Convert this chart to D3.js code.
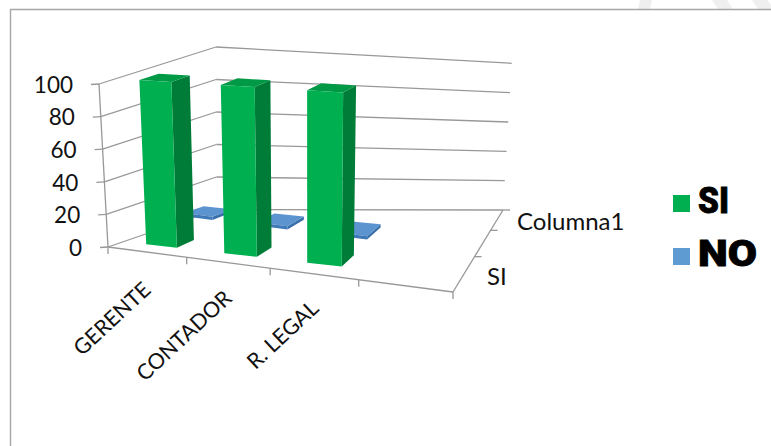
<!DOCTYPE html>
<html>
<head>
<meta charset="utf-8">
<script src="https://cdn.jsdelivr.net/npm/d3@7"></script>
<style>
html,body{margin:0;padding:0;background:#fff}
svg{display:block}
text{font-family:Lato,"Open Sans",sans-serif;fill:#111}
</style>
</head>
<body>
<svg id="chart" width="771" height="446"></svg>
<script>
// Chart content. The category axis has a fourth, unnamed slot that stays empty.
const categories = ["GERENTE", "CONTADOR", "R. LEGAL", ""];
const depthSeries = ["SI", "NO", "Columna1"];
const depthLabels = ["SI", "Columna1"];
const siValues = [100, 100, 100];
const noValues = [2, 2, 2];
const valueTicks = [0, 20, 40, 60, 80, 100];
const legendNames = ["SI", "NO"];

const colors = {
  SI: {front: "#00b050", side: "#007c39", top: "#009a46"},
  NO: {front: "#3f7ab8", side: "#3a70aa", top: "#5b94cf"},
  legendNO: "#5f9bd3",
  axis: "#989898",
  frame: "#a6a6a6"
};

const svg = d3.select("#chart");

// Perspective box: floor and ceiling quadrilaterals of the plot, listed as
// front-left, front-right, back-right, back-left.
const floorQuad = [[108, 247], [453, 292], [503, 210], [216.5, 209.5]];
const ceilQuad  = [[99, 84], [459, 106], [511.7, 63.3], [216, 47]];

// Foreshortening along each floor direction
const foreshorten = k => t => t / (t + k * (1 - t));
const warpU = foreshorten(1.128);
const warpV = foreshorten(0.66);

function bilinear(q, s, t) {
  const lerp = (a, b, f) => [a[0] + (b[0] - a[0]) * f, a[1] + (b[1] - a[1]) * f];
  return lerp(lerp(q[0], q[1], s), lerp(q[3], q[2], s), t);
}

// Data scales in the chart's own space
const xScale = d3.scaleBand().domain(categories).range([0, 1]);
const zScale = d3.scaleBand().domain(depthSeries).range([0, 1]);
const yScale = d3.scaleLinear().domain([0, 100]).range([0, 1]);

function project(u, v, value) {
  const s = warpU(u), d = warpV(v), t = yScale(value);
  const a = bilinear(floorQuad, s, d), b = bilinear(ceilQuad, s, d);
  return [a[0] + (b[0] - a[0]) * t, a[1] + (b[1] - a[1]) * t];
}
const poly = pts => "M" + pts.map(p => p.map(n => n.toFixed(2)).join(",")).join("L") + "Z";
const seg = (p, q) => "M" + p.join(",") + "L" + q.join(",");

// Chart frame and faint background stripes
const stripes = [
  [[640, 0], [652, 0], [650, 9], [638, 9]],
  [[712, 0], [727, 0], [733, 9], [718, 9]],
  [[752, 0], [767, 0], [771, 5], [771, 9], [758, 9]]
];
svg.selectAll("path.stripe").data(stripes).join("path").attr("class", "stripe")
  .attr("d", poly).attr("fill", "#efefef");
svg.append("path").attr("d", "M10.5,446V9.5H771")
  .attr("fill", "none").attr("stroke", colors.frame).attr("stroke-width", 1.4);

// Gridlines on the side and back walls
const grid = svg.append("g").attr("fill", "none").attr("stroke", colors.axis).attr("stroke-width", 1.3);
valueTicks.forEach(t => {
  grid.append("path").attr("d", seg(project(0, 0, t), project(0, 1, t)));
  grid.append("path").attr("d", seg(project(0, 1, t), project(1, 1, t)));
  // small tick to the left of the value axis
  const p = project(0, 0, t);
  grid.append("path").attr("d", seg([p[0] - 8, p[1] + 0.5], p));
});
// Axis edges
grid.append("path").attr("d", seg(project(0, 0, 0), project(0, 0, 100)));
grid.append("path").attr("d", seg(project(0, 0, 0), project(1, 0, 0)));
grid.append("path").attr("d", seg(project(1, 0, 0), project(1, 1, 0)));

// Category ticks along the front edge and series ticks along the right edge
categories.concat("end").forEach((c, i) => {
  const p = project(i / categories.length, 0, 0);
  grid.append("path").attr("d", seg(p, [p[0], p[1] + 7]));
});
depthSeries.forEach((s, i) => {
  const p = project(1, (i + 1) / depthSeries.length, 0);
  grid.append("path").attr("d", seg(p, [p[0] + 7, p[1]]));
});

// A column is a box standing on the floor: front, side and top faces.
function columnFaces(cat, series, value, depthFill) {
  const barFill = 0.4;
  const cw = xScale.bandwidth(), dw = zScale.bandwidth();
  const u0 = xScale(cat) + cw * (1 - barFill) / 2, u1 = u0 + cw * barFill;
  const v0 = zScale(series) + dw * (1 - depthFill) / 2, v1 = v0 + dw * depthFill;
  return {
    front: [project(u0, v0, 0), project(u1, v0, 0), project(u1, v0, value), project(u0, v0, value)],
    side:  [project(u1, v0, 0), project(u1, v1, 0), project(u1, v1, value), project(u1, v0, value)],
    top:   [project(u0, v0, value), project(u1, v0, value), project(u1, v1, value), project(u0, v1, value)]
  };
}
// The row can be lifted and sheared a little so it runs parallel to the front edge.
function drawColumns(series, values, palette, depthFill, lift, shear) {
  const g = svg.append("g").attr("class", "series-" + series)
    .attr("transform", `matrix(1,${shear},0,1,0,${-lift - shear * 300})`);
  values.forEach((v, i) => {
    const f = columnFaces(categories[i], series, v, depthFill);
    ["side", "top", "front"].forEach(k => {
      g.append("path").attr("d", poly(f[k])).attr("fill", palette[k]);
    });
  });
}
drawColumns("NO", noValues, colors.NO, 0.6, 7, 0.055);
drawColumns("SI", siValues, colors.SI, 0.4, 0, 0);

// Value labels follow the slant of the value axis
svg.append("g").selectAll("text").data(valueTicks).join("text")
  .attr("x", t => project(0, 0, t)[0] - 26).attr("y", t => project(0, 0, t)[1] + 1)
  .attr("dy", "0.35em").attr("text-anchor", "end").attr("font-size", 22.5)
  .text(d => d);

// Category labels, rotated and ending just under the front edge
const catAnchors = [[152, 291.5], [233, 300], [320, 310]];
svg.append("g").selectAll("text").data(categories.filter(c => c)).join("text")
  .attr("transform", (d, i) => `translate(${catAnchors[i][0]},${catAnchors[i][1]}) rotate(-43)`)
  .attr("text-anchor", "end").attr("font-size", 21.5)
  .text(d => d);

// Series labels beside the depth axis
const depthAnchors = [[487, 285], [517, 230]];
svg.append("g").selectAll("text").data(depthLabels).join("text")
  .attr("x", (d, i) => depthAnchors[i][0]).attr("y", (d, i) => depthAnchors[i][1])
  .attr("font-size", 24).text(d => d);

// Legend, in a heavy wide face
const legendY = [195, 248];
const legendWidths = [31, 59];
const legendColors = [colors.SI.front, colors.legendNO];
const legend = svg.append("g");
legend.selectAll("rect").data(legendNames).join("rect")
  .attr("x", 673).attr("y", (d, i) => legendY[i]).attr("width", 17).attr("height", 17)
  .attr("fill", (d, i) => legendColors[i]);
legend.selectAll("text").data(legendNames).join("text")
  .attr("x", 698).attr("y", (d, i) => legendY[i] + 18)
  .attr("font-size", 36).attr("font-weight", 900)
  .attr("textLength", (d, i) => legendWidths[i]).attr("lengthAdjust", "spacingAndGlyphs")
  .style("font-family", "Roboto,'Noto Sans',sans-serif").style("fill", "#000")
  .attr("stroke", "#000").attr("stroke-width", 0.8)
  .text(d => d);
</script>
</body>
</html>
